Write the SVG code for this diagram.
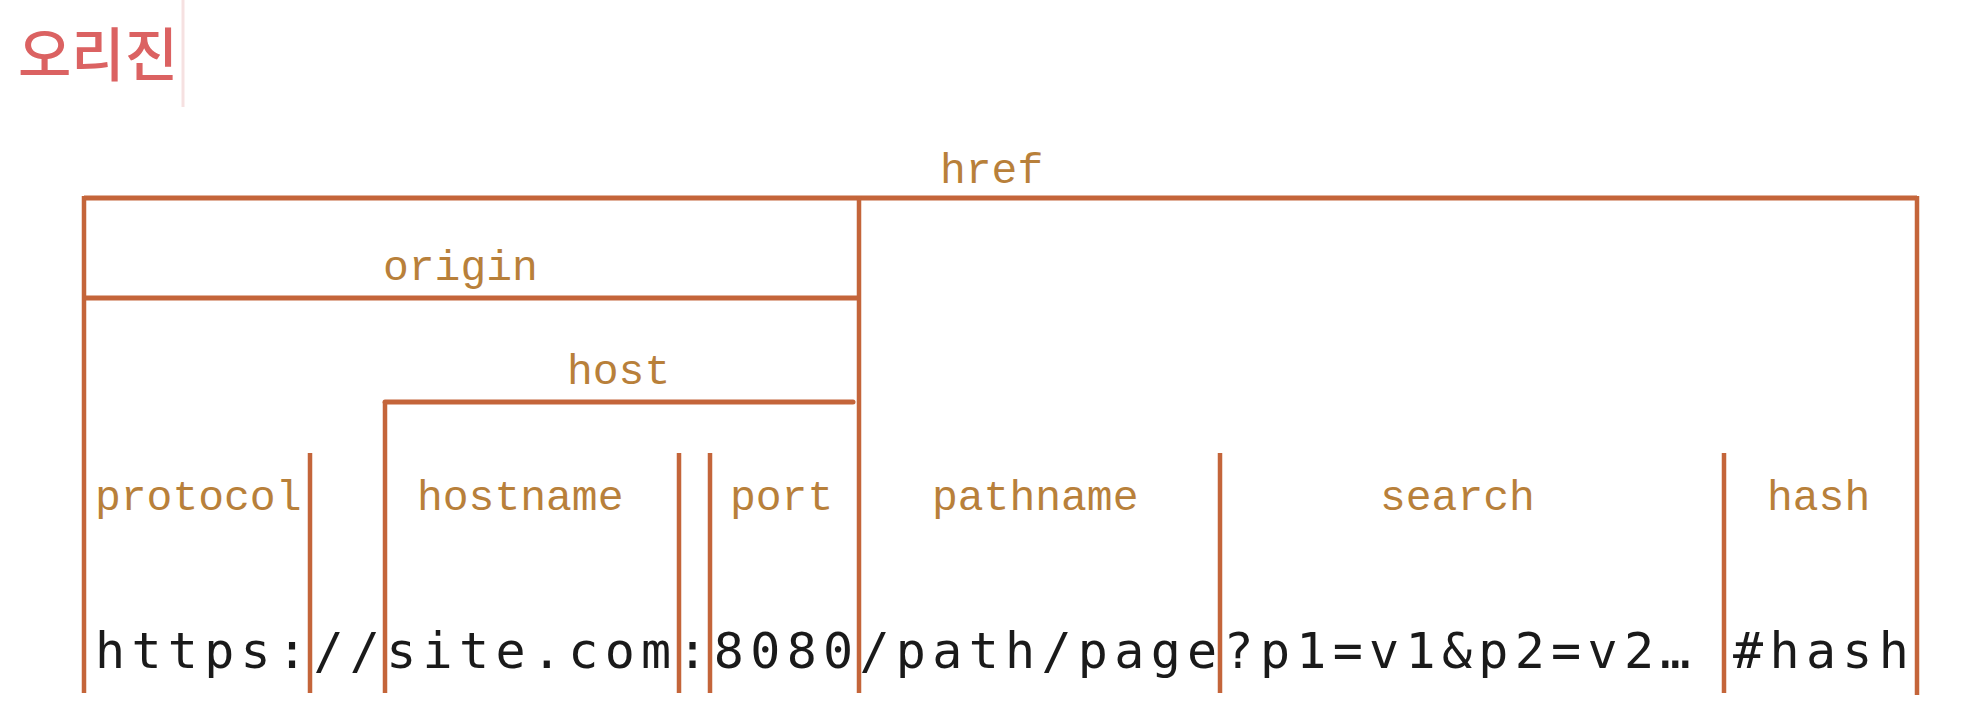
<svg xmlns="http://www.w3.org/2000/svg" width="1965" height="722" viewBox="0 0 1965 722">
<style>
.ln{stroke:#c4653a;stroke-width:4.5;fill:none}
.hz{stroke:#c4653a;stroke-width:5;fill:none}
.lbl{font-family:"Liberation Mono",monospace;font-size:43px;fill:#b8803a}
.url{font-family:"DejaVu Sans Mono",monospace;font-size:50px;fill:#1a1a1a;letter-spacing:6.3px}
</style>
<rect width="1965" height="722" fill="#ffffff"/>
<g id="title">
<text x="18" y="76" font-family="Noto Sans CJK KR, sans-serif" font-size="58" font-weight="500" fill="#db6262">오리진</text>
<line x1="183" y1="0" x2="183" y2="107" stroke="#f6e1e1" stroke-width="3"/>
</g>
<g id="connectors">
<line class="hz" x1="84" y1="198" x2="1917" y2="198"/>
<line class="ln" x1="84" y1="196" x2="84" y2="693"/>
<line class="ln" x1="1917" y1="196" x2="1917" y2="695"/>
<line class="ln" x1="859" y1="196" x2="859" y2="693"/>
<line class="hz" x1="84" y1="298" x2="859" y2="298"/>
<line class="hz" x1="385" y1="402" x2="853" y2="402" stroke-linecap="round"/>
<line class="ln" x1="385" y1="402" x2="385" y2="693"/>
<line class="ln" x1="310" y1="453" x2="310" y2="693"/>
<line class="ln" x1="679" y1="453" x2="679" y2="693"/>
<line class="ln" x1="710" y1="453" x2="710" y2="693"/>
<line class="ln" x1="1220" y1="453" x2="1220" y2="693"/>
<line class="ln" x1="1724" y1="453" x2="1724" y2="693"/>
</g>
<g id="href"><text class="lbl" x="940" y="183">href</text></g>
<g id="origin"><text class="lbl" x="383" y="280">origin</text></g>
<g id="host"><text class="lbl" x="567" y="384">host</text></g>
<g id="protocol"><text class="lbl" x="95" y="510">protocol</text></g>
<g id="hostname"><text class="lbl" x="417" y="510">hostname</text></g>
<g id="port"><text class="lbl" x="730" y="510">port</text></g>
<g id="pathname"><text class="lbl" x="932" y="510">pathname</text></g>
<g id="search"><text class="lbl" x="1380" y="510">search</text></g>
<g id="hash"><text class="lbl" x="1767" y="510">hash</text></g>
<g id="url">
<text class="url" x="95" y="668">https://site.com:8080/path/page?p1=v1&amp;p2=v2… #hash</text>
</g>
</svg>
